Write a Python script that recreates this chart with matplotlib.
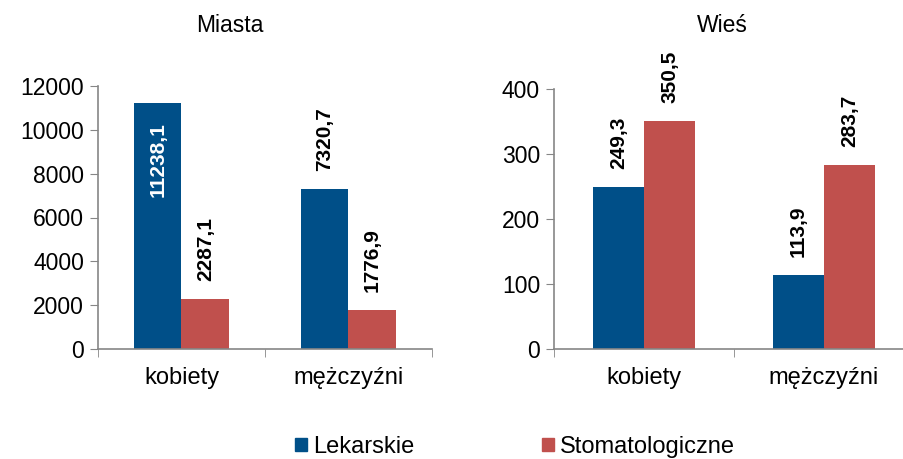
import numpy as np
import matplotlib.pyplot as plt
from matplotlib.patches import Patch

plt.rcParams['font.family'] = ['Liberation Sans', 'DejaVu Sans']

# Data
categories = ["kobiety", "mężczyźni"]
series_names = ["Lekarskie", "Stomatologiczne"]
miasta_lek = [11238.1, 7320.7]
miasta_stom = [2287.1, 1776.9]
wies_lek = [249.3, 113.9]
wies_stom = [350.5, 283.7]

blue = "#004F88"
red = "#C0504D"
axis_gray = "#868686"
bar_w = 0.285


def fmt(v):
    return f"{v:.1f}".replace(".", ",")


def draw_panel(ax, lek, stom, ymax, ystep, inside_first=False):
    x = np.arange(len(categories))
    b1 = ax.bar(x - bar_w / 2, lek, bar_w, color=blue, zorder=2)
    b2 = ax.bar(x + bar_w / 2, stom, bar_w, color=red, zorder=2)
    for i, (bars, vals) in enumerate([(b1, lek), (b2, stom)]):
        for j, (b, v) in enumerate(zip(bars, vals)):
            cx = b.get_x() + b.get_width() / 2
            if inside_first and i == 0 and j == 0:
                ax.annotate(fmt(v), (cx, v), xytext=(0, -19), textcoords="offset pixels",
                            rotation=90, ha="center", va="top", fontsize=15,
                            fontweight="bold", color="white", zorder=3)
            else:
                ax.annotate(fmt(v), (cx, v), xytext=(0, 18), textcoords="offset pixels",
                            rotation=90, ha="center", va="bottom", fontsize=15,
                            fontweight="bold", color="black", zorder=3,
                            annotation_clip=False)
    ax.set_ylim(0, ymax)
    ax.set_yticks(np.arange(0, ymax + 1, ystep))
    ax.set_xticks(x)
    ax.set_xticklabels(categories)
    ax.set_xticks([-0.5, 0.5, 1.5], minor=True)
    ax.tick_params(axis="x", which="major", length=0, pad=13, labelsize=17)
    ax.tick_params(axis="x", which="minor", length=6, color=axis_gray, direction="out")
    ax.tick_params(axis="y", length=6, color=axis_gray, labelsize=16.5, pad=4)
    for s in ["top", "right"]:
        ax.spines[s].set_visible(False)
    for s in ["left", "bottom"]:
        ax.spines[s].set_color(axis_gray)
        ax.spines[s].set_linewidth(1.2)


fig = plt.figure(figsize=(9.04, 4.59), dpi=100)

ax1 = fig.add_axes([98 / 904, 110 / 459, 334 / 904, 263 / 459])
draw_panel(ax1, miasta_lek, miasta_stom, 12000, 2000, inside_first=True)
ax1.set_xlim(-0.5, 1.5)

ax2 = fig.add_axes([554 / 904, 110 / 459, 350 / 904, 260 / 459])
draw_panel(ax2, wies_lek, wies_stom, 400, 100)
ax2.set_xlim(-0.5, 1.5 - 10 / 180)

fig.text(230 / 904, 1 - 25 / 459, "Miasta", ha="center", va="center", fontsize=16.5)
fig.text(722 / 904, 1 - 25 / 459, "Wieś", ha="center", va="center", fontsize=16.5)

handles = [Patch(color=blue), Patch(color=red)]
fig.legend(handles, series_names, loc="center", bbox_to_anchor=(515 / 904, 12 / 459),
           ncol=2, frameon=False, fontsize=17, handlelength=0.5, handleheight=0.5,
           handletextpad=0.25, columnspacing=5.4)

fig.savefig("out.png", dpi=100)
